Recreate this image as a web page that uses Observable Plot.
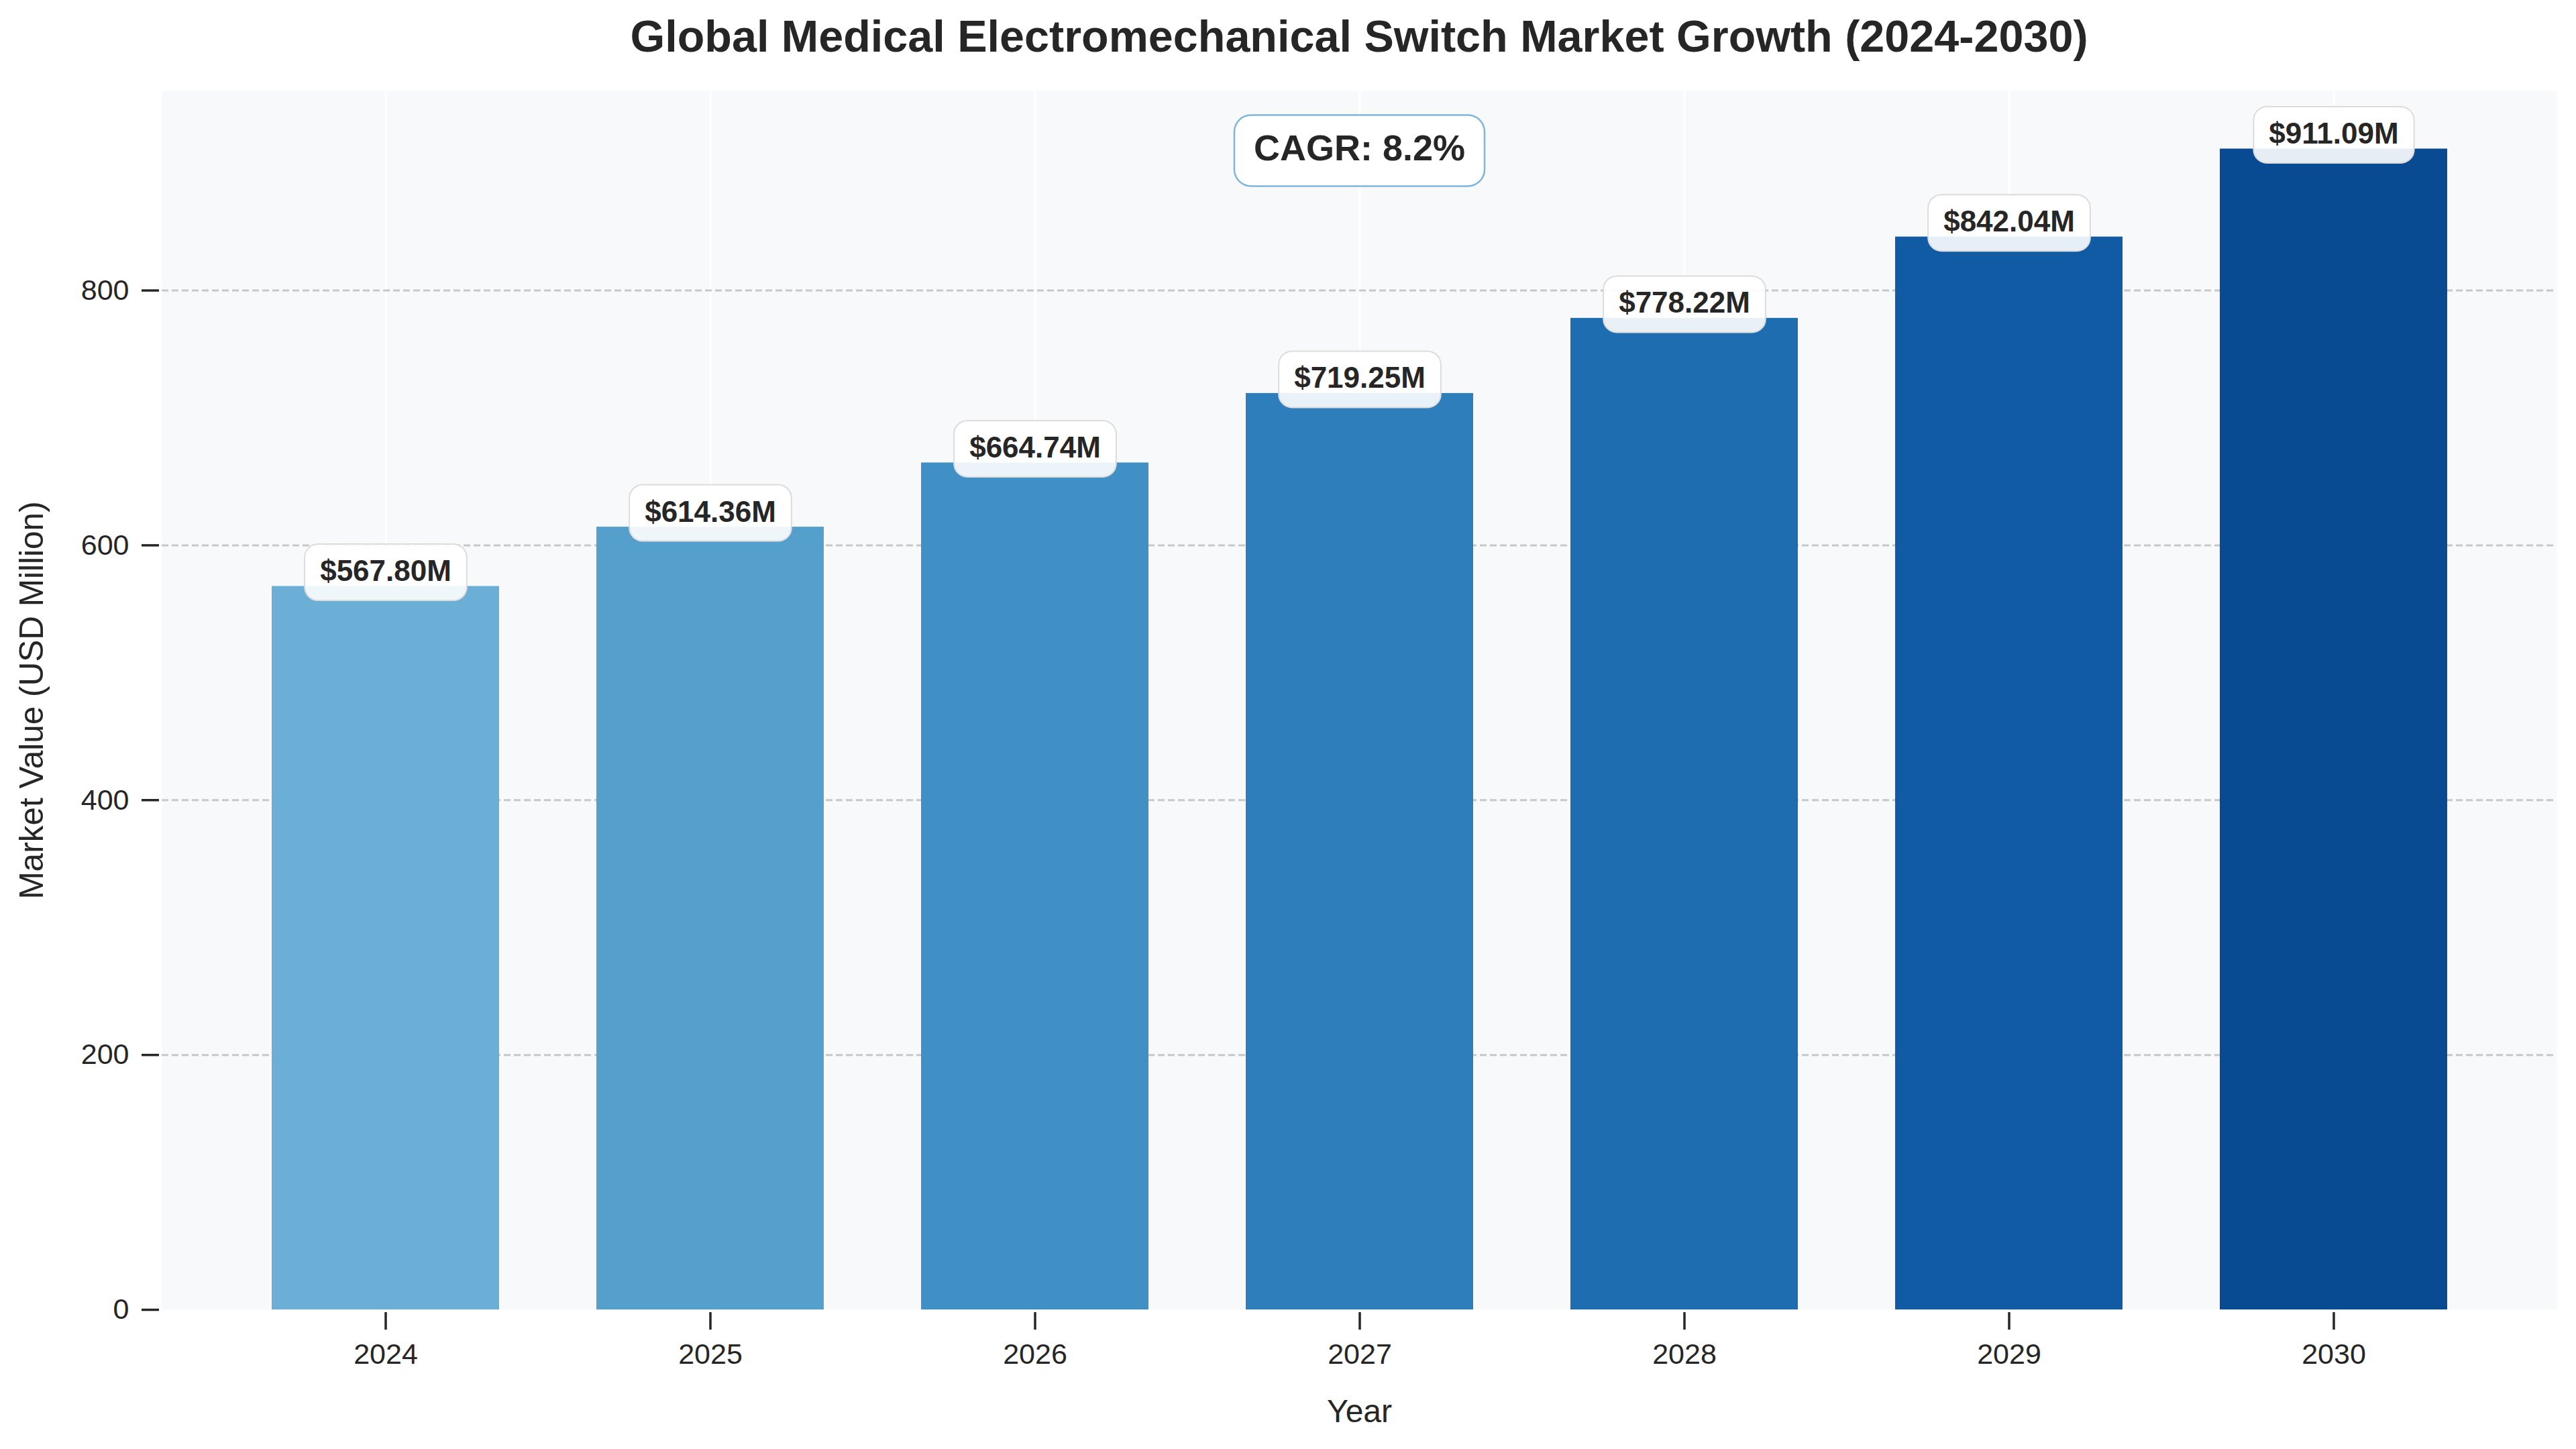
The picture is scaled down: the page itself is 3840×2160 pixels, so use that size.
<!DOCTYPE html>
<html><head><meta charset="utf-8">
<script src="https://cdn.jsdelivr.net/npm/d3@7"></script>
<script src="https://cdn.jsdelivr.net/npm/@observablehq/plot@0.6"></script>
<style>
html,body{margin:0;padding:0;background:#fff;overflow:hidden;}
#wrap{width:3840px;height:2160px;position:relative;font-family:"Liberation Sans",Arial,sans-serif;background:#fff;}
#title{box-sizing:border-box;width:3840px;height:100px;padding:21px 29px 0 241px;text-align:center;font-size:66.5px;line-height:67px;font-weight:bold;color:#262626;white-space:nowrap;}
#chart svg{display:block;}
</style></head><body>
<div id="wrap"><div id="title">Global Medical Electromechanical Switch Market Growth (2024-2030)</div><div id="chart"></div></div>
<script>
// ---- data ----
const years = ["2024", "2025", "2026", "2027", "2028", "2029", "2030"];
const values = [567.80, 614.36, 664.74, 719.25, 778.22, 842.04, 911.09];
const yTicks = [0, 200, 400, 600, 800];
const cagrText = "CAGR: 8.2%";
const xLabel = "Year";
const yLabel = "Market Value (USD Million)";
// ---- style ----
const barColors = ["#6baed6", "#559fcd", "#4090c5", "#2e7ebc", "#1e6db1", "#105ba4", "#084b92"];
const FONT = '"Liberation Sans", Arial, sans-serif';
const INK = "#262626";

const data = years.map((year, i) => ({year, value: values[i]}));
const fmt = v => `$${v.toFixed(2)}M`;

const plot = Plot.plot({
  width: 3840, height: 2060,
  marginTop: 35, marginBottom: 208, marginLeft: 241, marginRight: 29,
  style: {fontFamily: FONT, fontSize: "43px", color: INK, background: "transparent"},
  x: {type: "band", domain: years, paddingInner: 0.3, paddingOuter: 0.335, label: null},
  y: {domain: [0, d3.max(values) * 1.05], label: null},
  color: {domain: years, range: barColors},
  marks: [
    Plot.frame({fill: "#f8f9fa", stroke: "none"}),
    Plot.gridX({stroke: "white", strokeOpacity: 1, strokeWidth: 3}),
    Plot.gridY({ticks: yTicks.filter(t => t > 0), stroke: "#c8c8c8", strokeOpacity: 1, strokeWidth: 3, strokeDasharray: "10,5"}),
    Plot.barY(data, {x: "year", y: "value", fill: "year"}),
    Plot.axisX({tickSize: 26, tickPadding: 20, dy: 4, strokeWidth: 3.5, fontSize: 43, label: null}),
    Plot.axisY({ticks: yTicks, tickSize: 26, tickPadding: 19, dx: -4, strokeWidth: 3.5, fontSize: 43, label: null}),
    Plot.text(data, {x: "year", y: "value", text: d => fmt(d.value), lineAnchor: "bottom", dy: -8,
      fontSize: 44, fontWeight: "bold", fill: INK, className: "barlabel"}),
    Plot.text([cagrText], {frameAnchor: "top", text: d => d, lineAnchor: "bottom", dy: 103,
      fontSize: 54, fontWeight: "bold", fill: INK, className: "cagrlabel"}),
    Plot.text([xLabel], {frameAnchor: "bottom", text: d => d, lineAnchor: "bottom", dy: 167, fontSize: 48, fill: INK}),
    Plot.text([yLabel], {frameAnchor: "left", text: d => d, rotate: -90, textAnchor: "middle", lineAnchor: "middle", dx: -193, fontSize: 49.5, fill: INK})
  ]
});
document.getElementById("chart").appendChild(plot);

function addBoxes(svg, cls, pad, attrs) {
  svg.querySelectorAll(`g.${cls} text`).forEach(t => {
    const bb = t.getBBox();
    const r = document.createElementNS("http://www.w3.org/2000/svg", "rect");
    r.setAttribute("x", bb.x - pad.l);
    r.setAttribute("y", bb.y - pad.t);
    r.setAttribute("width", bb.width + pad.l + pad.r);
    r.setAttribute("height", bb.height + pad.t + pad.b);
    const tr = t.getAttribute("transform");
    if (tr) r.setAttribute("transform", tr);
    for (const [k, v] of Object.entries(attrs)) r.setAttribute(k, v);
    t.parentNode.insertBefore(r, t);
  });
}
addBoxes(plot, "barlabel", {l: 23, r: 23, t: 15, b: 20},
  {rx: 20, ry: 20, fill: "white", "fill-opacity": 0.9, stroke: "#dcdcdc", "stroke-width": 2});
addBoxes(plot, "cagrlabel", {l: 29, r: 29, t: 18, b: 28},
  {rx: 25, ry: 25, fill: "white", "fill-opacity": 1, stroke: "#7fb6dc", "stroke-width": 2.5});
</script>
</body></html>
